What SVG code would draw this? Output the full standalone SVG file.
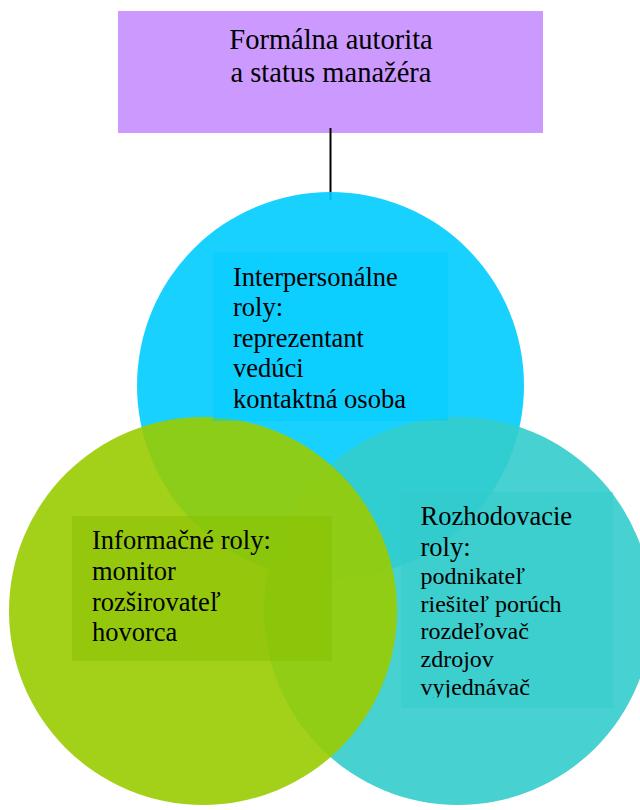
<svg xmlns="http://www.w3.org/2000/svg" width="640" height="810" viewBox="0 0 640 810">
  <style>
    text { font-family: "Liberation Serif", "Times New Roman", serif; fill: #000; }
    .t { font-size: 26.5px; }
    .s { font-size: 24px; }
    .title { font-size: 28.5px; text-anchor: middle; }
    .circ { opacity: 0.9; }
    .box { opacity: 0.5; }
  </style>
  <defs>
    <clipPath id="clipR"><rect x="401" y="492" width="212" height="205.5"/></clipPath>
  </defs>
  <rect width="640" height="810" fill="#fff"/>
  <g id="top-node">
    <rect x="118" y="11" width="425" height="122" fill="#CC99FF"/>
    <text class="title" x="331" y="49">Formálna autorita</text>
    <text class="title" x="331" y="82">a status manažéra</text>
  </g>
  <g id="connectors">
    <line x1="330.5" y1="128" x2="330.5" y2="200" stroke="#000" stroke-width="2"/>
  </g>
  <g id="circle-interpersonal">
    <circle class="circ" cx="330.5" cy="385.5" r="193.5" fill="#00CCFF"/>
  </g>
  <g id="circle-decision">
    <circle class="circ" cx="458" cy="611" r="194" fill="#33CCCC"/>
  </g>
  <g id="circle-information">
    <circle class="circ" cx="203" cy="611" r="194" fill="#99CC00"/>
  </g>
  <g id="label-interpersonal">
    <rect class="box" x="213" y="252" width="235" height="169" fill="#00CCFF"/>
    <text class="t" x="233" y="285.5">Interpersonálne</text>
    <text class="t" x="233" y="316">roly:</text>
    <text class="t" x="233" y="346.7">reprezentant</text>
    <text class="t" x="233" y="377.3">vedúci</text>
    <text class="t" x="233" y="408">kontaktná osoba</text>
  </g>
  <g id="label-information">
    <rect class="box" x="72" y="516" width="260" height="145" fill="#88C000"/>
    <text class="t" x="92" y="549">Informačné roly:</text>
    <text class="t" x="92" y="580">monitor</text>
    <text class="t" x="92" y="610.5">rozširovateľ</text>
    <text class="t" x="92" y="640.7">hovorca</text>
  </g>
  <g id="label-decision">
    <rect class="box" x="401" y="492" width="212" height="216" fill="#33CCCC"/>
    <text class="t" x="420.5" y="525">Rozhodovacie</text>
    <text class="t" x="420.5" y="555.7">roly:</text>
    <text class="s" x="420.5" y="584">podnikateľ</text>
    <text class="s" x="420.5" y="611.7">riešiteľ porúch</text>
    <text class="s" x="420.5" y="639">rozdeľovač</text>
    <text class="s" x="420.5" y="666.7">zdrojov</text>
    <text class="s" x="420.5" y="695" clip-path="url(#clipR)">vyjednávač</text>
  </g>
</svg>
